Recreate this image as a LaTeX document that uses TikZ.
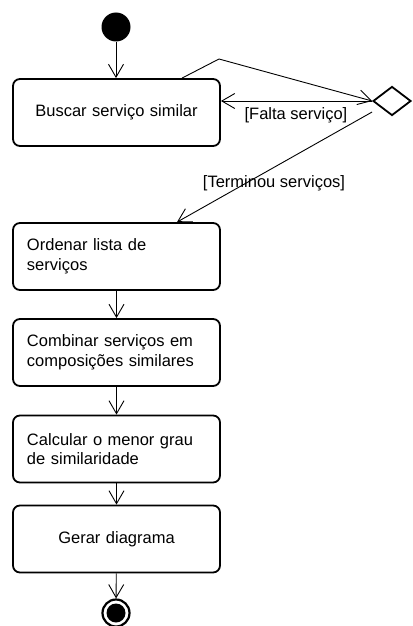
\documentclass[tikz,border=0pt]{standalone}
\usepackage{fontspec}
\setmainfont{Liberation Sans}
\usetikzlibrary{arrows.meta,shapes.geometric,calc}
\begin{document}
\begin{tikzpicture}[x=1pt,y=1pt,
  act/.style={draw, line width=1.8pt, rounded corners=7pt, minimum width=207pt, minimum height=67pt,
    text width=179pt, inner xsep=14pt, font=\fontsize{16.5}{19.5}\selectfont},
  conn/.style={line width=0.9pt, -{Straight Barb[length=13pt,width=15pt,line width=0.9pt]}},
  lbl/.style={font=\fontsize{16.5}{19.5}\selectfont, inner sep=1pt}]
\useasboundingbox (0,0) rectangle (412,-626);
\node[circle, fill=black, minimum size=29pt, inner sep=0pt] (start) at (116,-27) {};
\node[act, align=center] (b1) at (116.5,-112.5) {Buscar serviço similar};
\node[draw, diamond, line width=1.8pt, minimum width=38pt, minimum height=29pt, inner sep=0pt] (dec) at (392,-101) {};
\node[act, align=left] (b2) at (116.5,-256.5) {Ordenar lista de\\serviços};
\node[act, align=left] (b3) at (116.5,-352.5) {Combinar serviços em\\composições similares};
\node[act, align=left] (b4) at (116.5,-449) {Calcular o menor grau\\de similaridade};
\node[act, align=center] (b5) at (116.5,-539) {Gerar diagrama};
\node[circle, draw, line width=2.2pt, minimum size=27pt, inner sep=0pt] (end) at (116,-613) {};
\node[circle, fill=black, minimum size=19pt, inner sep=0pt] at (end) {};
\coordinate (bend) at (219,-59);
\draw[conn] (start) -- (b1.north -| start);
\draw[conn] ($(b1.north)+(65.5,0)$) -- (bend) -- (dec.west);
\draw[conn] (dec.west) -- (dec.west -| b1.east);
\node[lbl] (lf) at (296,-115) {[Falta serviço]};
\draw[conn] ($(dec.west)+(0,-11)$) -- ($(b2.north)+(60.5,0)$);
\node[lbl] (lt) at (274,-183) {[Terminou serviços]};
\draw[conn] (b2) -- (b3);
\draw[conn] (b3) -- (b4);
\draw[conn] (b4) -- (b5);
\draw[conn] (b5) -- (end);
\end{tikzpicture}
\end{document}
